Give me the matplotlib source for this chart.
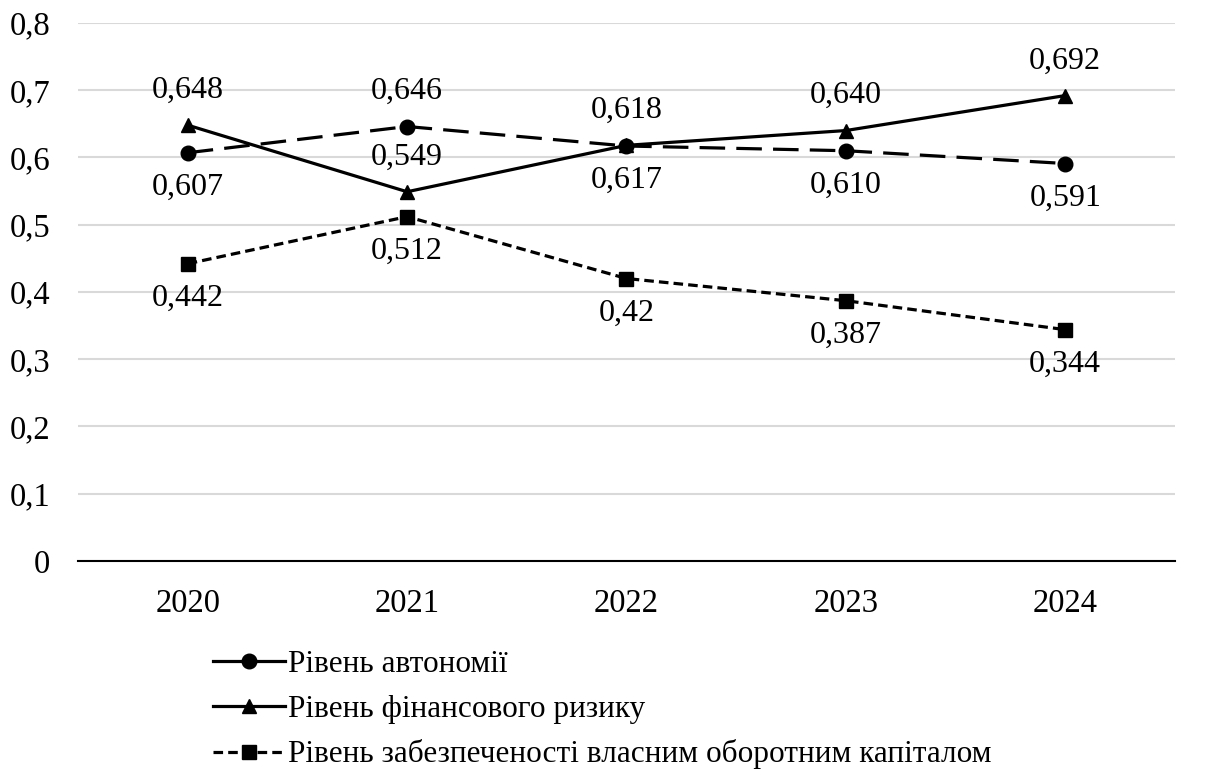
import matplotlib
matplotlib.use('Agg')
import matplotlib.pyplot as plt
from matplotlib.lines import Line2D

plt.rcParams['font.family'] = ['Liberation Serif', 'DejaVu Serif']

years = ['2020', '2021', '2022', '2023', '2024']
autonomy = [0.607, 0.646, 0.617, 0.610, 0.591]
fin_risk = [0.648, 0.549, 0.618, 0.640, 0.692]
working_cap = [0.442, 0.512, 0.42, 0.387, 0.344]

autonomy_labels = ['0,607', '0,646', '0,617', '0,610', '0,591']
fin_risk_labels = ['0,648', '0,549', '0,618', '0,640', '0,692']
working_cap_labels = ['0,442', '0,512', '0,42', '0,387', '0,344']

# label above (+1) or below (-1) each point
autonomy_side = [-1, 1, -1, -1, -1]
fin_risk_side = [1, 1, 1, 1, 1]
working_cap_side = [-1, -1, -1, -1, -1]

series_names = ['Рівень автономії', 'Рівень фінансового ризику',
                'Рівень забезпеченості власним оборотним капіталом']

fig = plt.figure(figsize=(12.08, 7.72), dpi=100)
ax = fig.add_axes([0.0646, 0.2733, 0.908, 0.697])

x = list(range(len(years)))
lw = 2.3
ax.plot(x, autonomy, color='black', lw=lw, dashes=(8, 3.5), marker='o', ms=10.5, zorder=3)
ax.plot(x, fin_risk, color='black', lw=lw, linestyle='-', marker='^', ms=10.5, zorder=3)
ax.plot(x, working_cap, color='black', lw=lw, dashes=(3, 1.6), marker='s', ms=10, zorder=3)

def add_labels(vals, labels, sides):
    for xi, v, t, s in zip(x, vals, labels, sides):
        ax.annotate(t, (xi, v), xytext=(0, 25 * s), textcoords='offset points',
                    ha='center', va='center', fontsize=23)

add_labels(autonomy, autonomy_labels, autonomy_side)
add_labels(fin_risk, fin_risk_labels, fin_risk_side)
add_labels(working_cap, working_cap_labels, working_cap_side)

ax.set_xlim(-0.5, 4.5)
ax.set_ylim(0, 0.8)
ax.set_yticks([i / 10 for i in range(9)])
ax.set_yticklabels(['0'] + ['0,%d' % i for i in range(1, 9)])
ax.set_xticks(x)
ax.set_xticklabels(years)
ax.tick_params(length=0, labelsize=23.5)
ax.tick_params(axis='y', pad=20)
ax.tick_params(axis='x', pad=20)
ax.grid(axis='y', color='#d9d9d9', lw=1.5)
ax.set_axisbelow(True)
for side in ['top', 'right', 'left']:
    ax.spines[side].set_visible(False)
ax.spines['bottom'].set_color('black')
ax.spines['bottom'].set_linewidth(1.5)

handles = [
    Line2D([], [], color='black', lw=lw, marker='o', ms=10.5),
    Line2D([], [], color='black', lw=lw, marker='^', ms=10.5),
    Line2D([], [], color='black', lw=lw, dashes=(3, 1.6), marker='s', ms=10),
]
fig.legend(handles, series_names, loc='upper left', bbox_to_anchor=(0.1634, 0.178),
           frameon=False, fontsize=22.5, handlelength=2.3, handletextpad=0.1,
           labelspacing=0.5, borderpad=0)

fig.savefig('out.png', dpi=100)
